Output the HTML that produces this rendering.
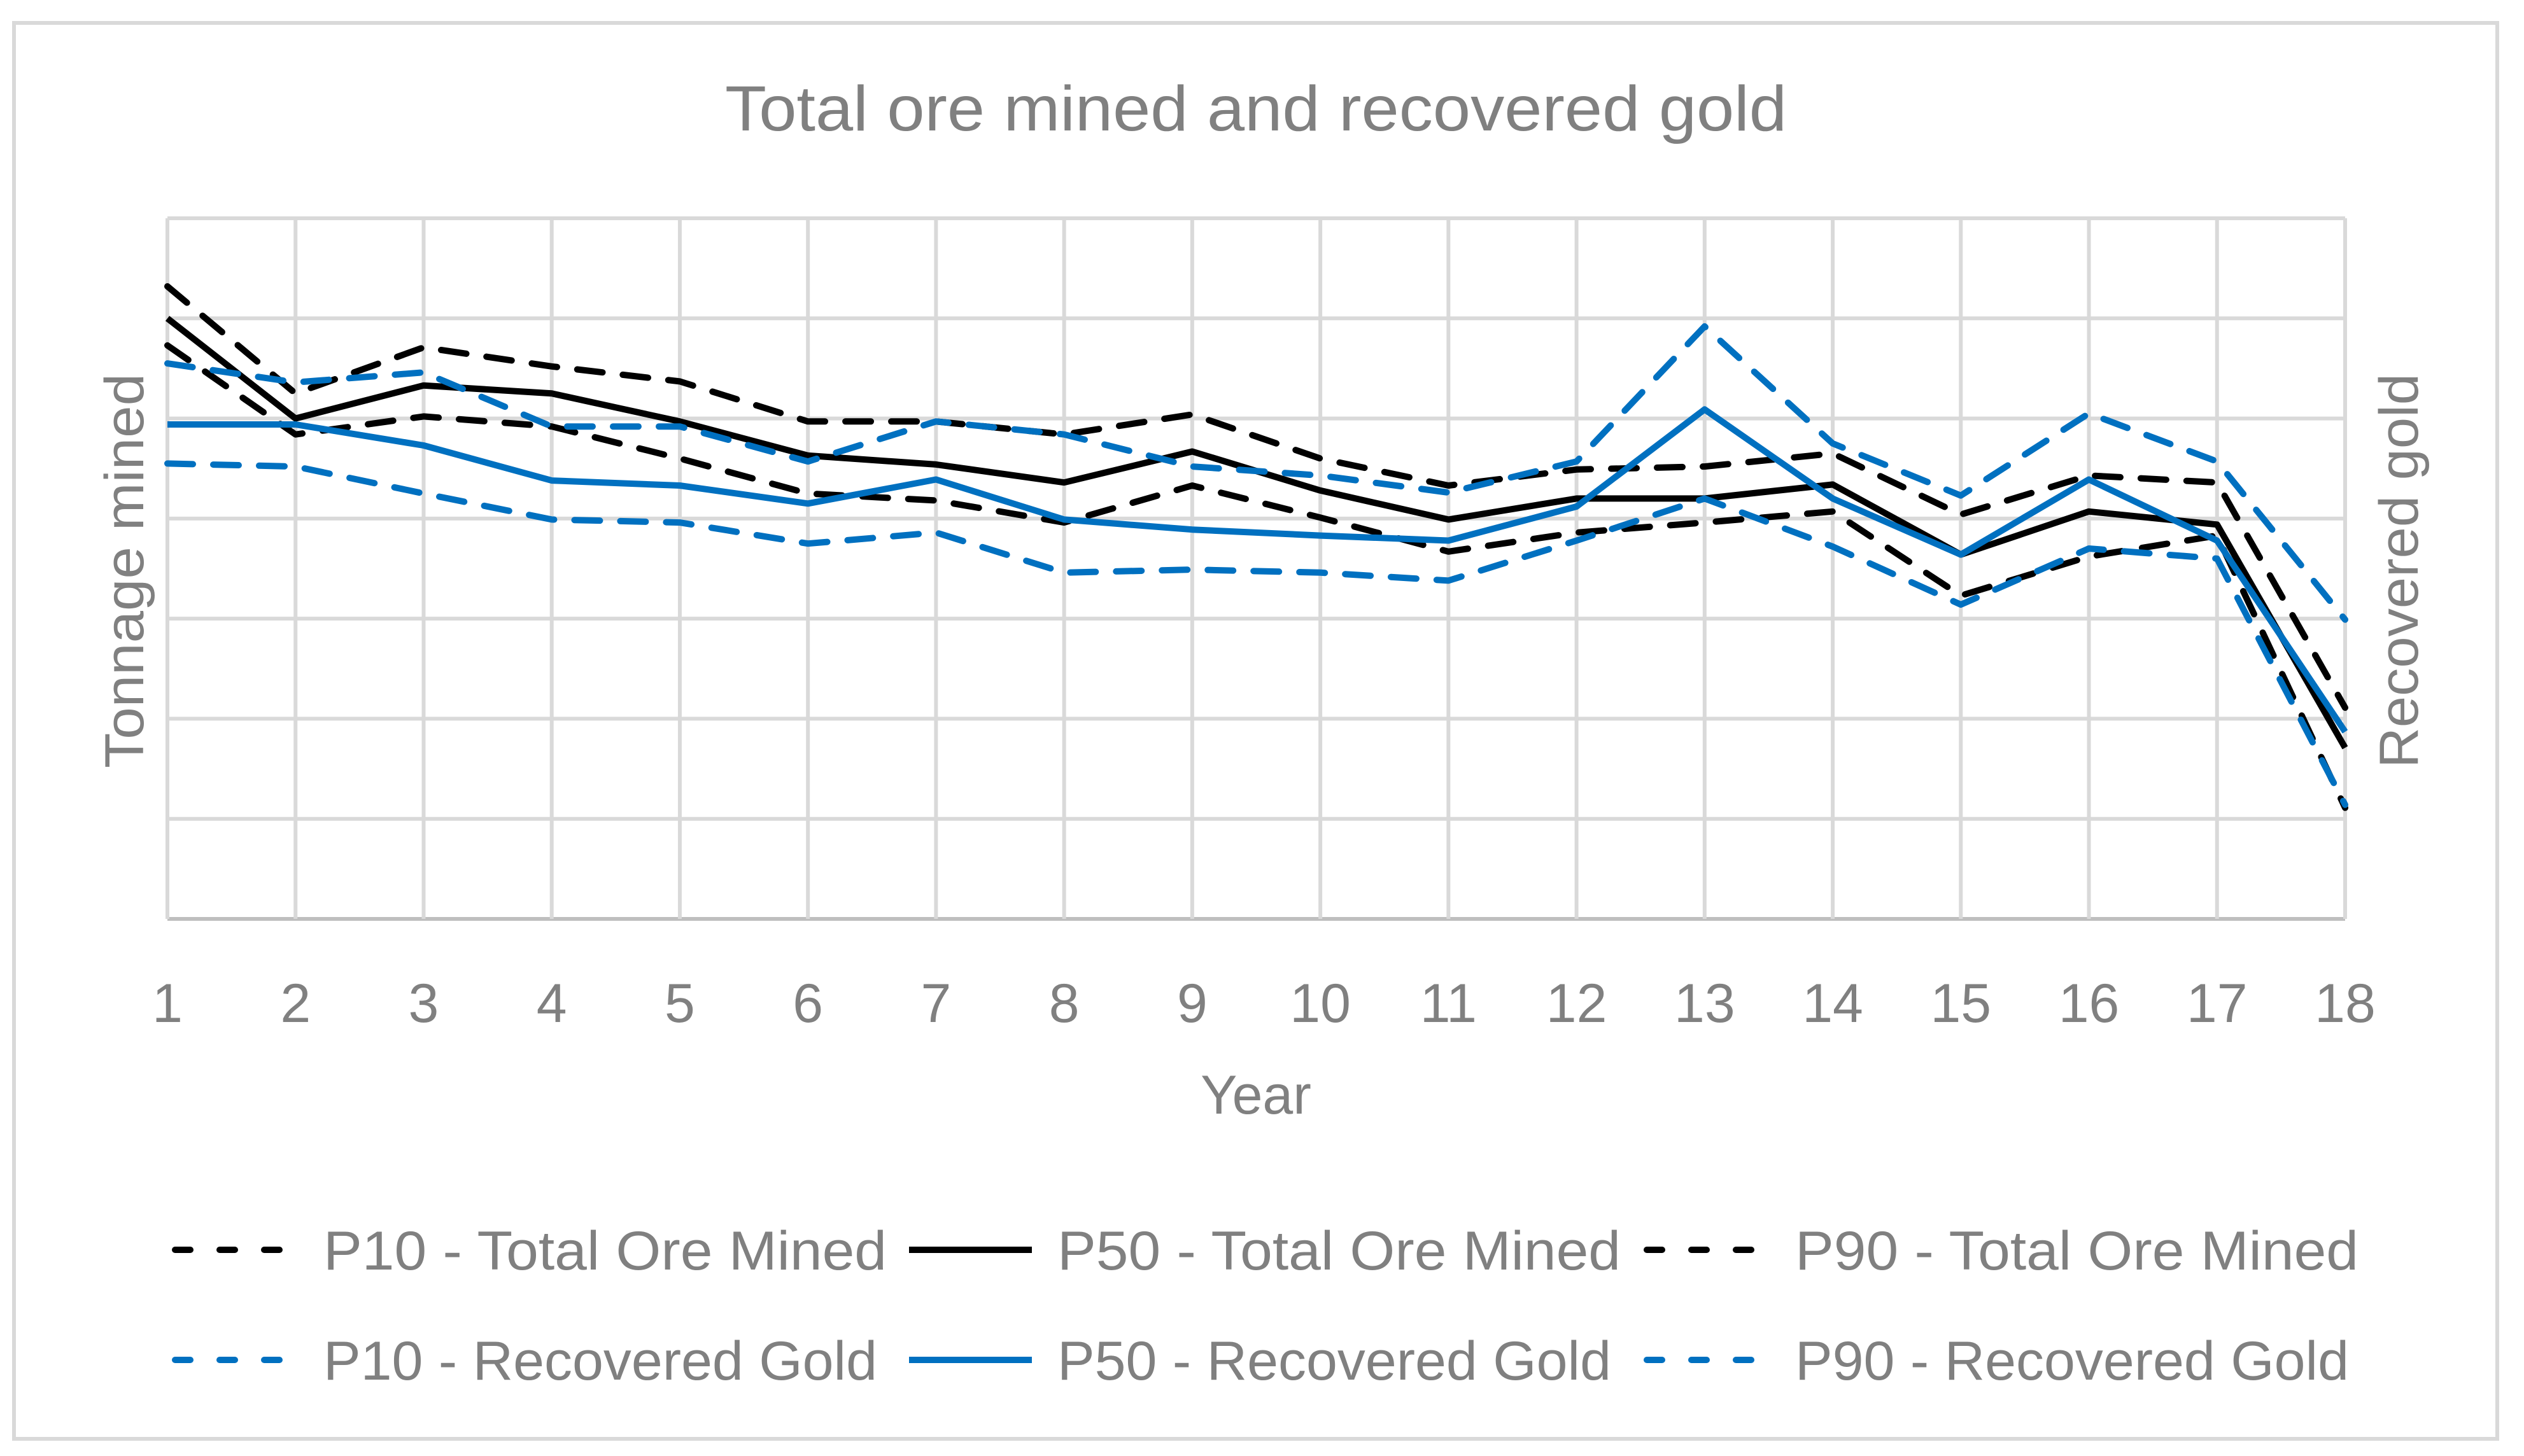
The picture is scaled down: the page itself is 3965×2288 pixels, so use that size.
<!DOCTYPE html>
<html><head><meta charset="utf-8"><style>
html,body{margin:0;padding:0;background:#fff;}
svg{display:block;font-family:"Liberation Sans",sans-serif;}
</style></head><body>
<svg id="chart" width="3965" height="2288" viewBox="0 0 3965 2288" xmlns="http://www.w3.org/2000/svg">
<rect x="22" y="36" width="3901" height="2225" fill="#fff" stroke="#d9d9d9" stroke-width="6"/>
<text x="1973" y="205" text-anchor="middle" font-size="100" fill="#808080" textLength="1668" lengthAdjust="spacingAndGlyphs">Total ore mined and recovered gold</text>
<g id="grid"></g>
<g id="xticks"></g>
<text x="1973" y="1750" text-anchor="middle" font-size="86" fill="#808080">Year</text>
<text transform="translate(225,897) rotate(-90)" text-anchor="middle" font-size="86" fill="#808080" textLength="620" lengthAdjust="spacingAndGlyphs">Tonnage mined</text>
<text transform="translate(3798,897) rotate(-90)" text-anchor="middle" font-size="86" fill="#808080" textLength="620" lengthAdjust="spacingAndGlyphs">Recovered gold</text>
<g id="series"></g>
<g id="legend"></g>
</svg>
<script>
const years = [1,2,3,4,5,6,7,8,9,10,11,12,13,14,15,16,17,18];
const p10Ore = [6.32,5.25,5.71,5.52,5.37,4.97,4.97,4.84,5.04,4.60,4.33,4.49,4.52,4.65,4.04,4.43,4.36,2.11];
const p50Ore = [6.00,5.00,5.33,5.25,4.97,4.63,4.54,4.36,4.67,4.28,3.99,4.20,4.20,4.34,3.64,4.07,3.94,1.71];
const p90Ore = [5.73,4.84,5.02,4.92,4.60,4.25,4.18,3.96,4.33,4.01,3.67,3.86,3.96,4.07,3.23,3.62,3.83,1.11];
const p10Gold = [5.55,5.36,5.46,4.92,4.92,4.57,4.97,4.84,4.52,4.43,4.26,4.57,5.92,4.75,4.23,5.05,4.57,2.99];
const p50Gold = [4.94,4.94,4.73,4.38,4.33,4.15,4.39,3.99,3.89,3.83,3.78,4.12,5.09,4.20,3.64,4.39,3.78,1.87];
const p90Gold = [4.55,4.52,4.25,3.99,3.96,3.75,3.86,3.46,3.49,3.46,3.38,3.78,4.20,3.72,3.14,3.70,3.60,1.14];
const yMax = 7;
const seriesNames = ["P10 - Total Ore Mined","P50 - Total Ore Mined","P90 - Total Ore Mined","P10 - Recovered Gold","P50 - Recovered Gold","P90 - Recovered Gold"];

const NS="http://www.w3.org/2000/svg";
const L=263,R=3684,T=343,B=1444;
function xPos(i){return L+(R-L)*i/(years.length-1);}
function yPos(v){return B-(B-T)*v/yMax;}
function mk(tag,attrs,parent){const e=document.createElementNS(NS,tag);for(const k in attrs)e.setAttribute(k,attrs[k]);parent.appendChild(e);return e;}

const grid=document.getElementById('grid');
for(let g=0;g<=yMax;g++){
  const ln=mk('line',{x1:L,x2:R,y1:yPos(g),y2:yPos(g),stroke:g===0?'#bfbfbf':'#d9d9d9','stroke-width':6},grid);
  
  
}
const xt=document.getElementById('xticks');
years.forEach((y,i)=>{
  const ln=mk('line',{x1:xPos(i),x2:xPos(i),y1:T,y2:B,stroke:'#d9d9d9','stroke-width':6},grid);
  
  
  const t=mk('text',{x:xPos(i),y:1606,'text-anchor':'middle','font-size':86,fill:'#808080'},xt);
  t.textContent=y;
  
  
});

const styles=[
 {d:p10Ore,c:'#000',dash:'40 32'},
 {d:p50Ore,c:'#000',dash:''},
 {d:p90Ore,c:'#000',dash:'40 32'},
 {d:p10Gold,c:'#0070C0',dash:'40 32'},
 {d:p50Gold,c:'#0070C0',dash:''},
 {d:p90Gold,c:'#0070C0',dash:'40 32'}
];
const sg=document.getElementById('series');
styles.forEach((s,k)=>{
  const pts=s.d.map((v,i)=>xPos(i).toFixed(1)+','+yPos(v).toFixed(1)).join(' ');
  const a={points:pts,fill:'none',stroke:s.c,'stroke-width':10,'stroke-linejoin':'round'};
  if(s.dash){a['stroke-dasharray']=s.dash;a['stroke-linecap']='round';}
  const p=mk('polyline',a,sg);
  
  
});

const lg=document.getElementById('legend');
const colX=[263,1416,2575], rowY=[1964,2137];
styles.forEach((s,k)=>{
  const cx=colX[k%3], cy=rowY[Math.floor(k/3)];
  const a={x1:cx+12,x2:cx+205,y1:cy,y2:cy,stroke:s.c,'stroke-width':10};
  if(s.dash){a['stroke-dasharray']='24 46';a['stroke-linecap']='round';}
  const ln=mk('line',a,lg);
  
  
  const t=mk('text',{x:cx+245,y:cy+31,'font-size':86,fill:'#808080',textLength:k<3?885:870,lengthAdjust:'spacingAndGlyphs'},lg);
  t.textContent=seriesNames[k];
  
  
});
</script>
</body></html>
